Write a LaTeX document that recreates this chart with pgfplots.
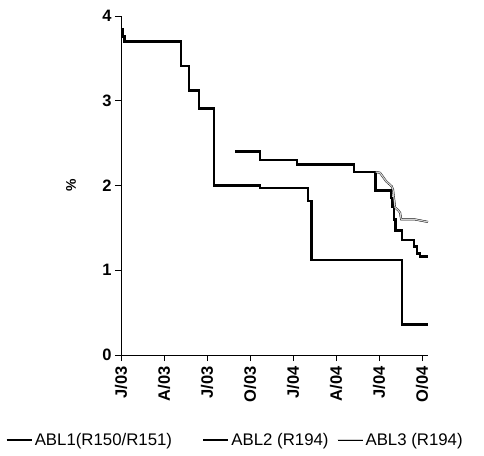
\documentclass[border=0pt]{standalone}
\usepackage{fontspec}
\setmainfont{Liberation Sans}
\usepackage{pgfplots}
\pgfplotsset{compat=1.18}

\begin{document}
\begin{tikzpicture}
\begin{axis}[
  at={(0,0)}, anchor=south west,
  scale only axis,
  width=307pt, height=339pt,
  xmin=0, xmax=21.42,
  ymin=0, ymax=4,
  axis x line*=bottom,
  axis y line*=left,
  axis line style={line width=0.8pt},
  tick align=outside,
  major tick length=6pt,
  tick style={line width=0.8pt, black},
  xtick={0,3,6,9,12,15,18,21},
  xticklabels={J/03,A/03,J/03,O/03,J/04,A/04,J/04,O/04},
  ytick={0,1,2,3,4},
  /pgf/number format/assume math mode=true,
  ticklabel style={font=\bfseries\fontsize{16.5}{16.5}\selectfont},
  xticklabel style={rotate=90, anchor=east, xshift=-2pt},
  ylabel={\%},
  ylabel style={at={(axis description cs:-0.163,0.5)}, anchor=center,
    font=\bfseries\fontsize{14}{14}\selectfont},
  legend columns=3,
  legend style={draw=none, fill=none, at={(axis description cs:-0.387,-0.25)},
    anchor=west, font=\fontsize{16.8}{16.8}\selectfont},
  legend image code/.code={\draw[#1] (0pt,0pt) -- (25pt,0pt);},
]
% ABL1 (R150/R151)
\addplot[const plot, black, line width=2.4pt] coordinates {
  (0,3.85) (0.12,3.76) (0.25,3.70) (4.19,3.41) (4.75,3.12) (5.44,2.91)
  (6.49,2.00) (9.70,1.97) (13.05,1.82) (13.30,1.12) (19.61,0.36) (21.42,0.36)
};
\addlegendentry{ABL1(R150/R151)\rule{28pt}{0pt}}
% ABL2 (R194)
\addplot[const plot, black, line width=2.4pt] coordinates {
  (7.96,2.40) (9.70,2.30) (12.28,2.25) (16.26,2.16) (17.77,1.94)
  (18.84,1.85) (18.95,1.75) (19.05,1.60) (19.15,1.47) (19.61,1.36)
  (20.45,1.28) (20.65,1.20) (20.85,1.16) (21.42,1.16)
};
\addlegendentry{ABL2 (R194)\rule{6pt}{0pt}}
% ABL3 (R194)
\addplot[black, line width=0.4pt, double=gray!35, double distance=1.2pt] coordinates {
  (17.77,2.16) (18.07,2.15) (18.50,2.05) (18.89,1.99) (18.98,1.95)
  (19.12,1.74) (19.33,1.71) (19.47,1.68) (19.55,1.60) (20.50,1.60) (21.42,1.57)
};
\addlegendentry{ABL3 (R194)}
\end{axis}
\useasboundingbox (-121pt,-100pt) rectangle (363pt,355pt);
\end{tikzpicture}
\end{document}
